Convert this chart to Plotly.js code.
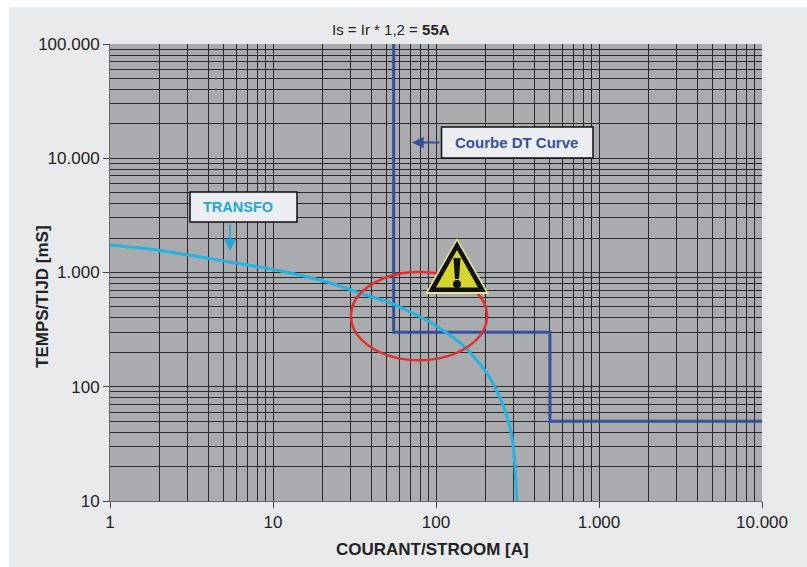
<!DOCTYPE html>
<html>
<head>
<meta charset="utf-8">
<script src="https://cdn.plot.ly/plotly-3.0.1.min.js"></script>
<style>
html,body{margin:0;padding:0;background:#fff;width:807px;height:567px;overflow:hidden}
#panel{position:absolute;left:9px;top:7px;width:798px;height:560px;background:#e9eaec}
#chart{position:absolute;left:0;top:0;width:807px;height:567px}
</style>
</head>
<body>
<div id="panel"></div>
<div id="chart"></div>
<script>
var transfoCurrent = [1, 1.94, 5.45, 11, 22.3, 35.6, 54.5, 91.9, 146, 205, 247, 277, 297, 305, 314];
var transfoTime = [1740, 1574, 1236, 1037, 814, 648, 530, 369, 232, 132, 80, 51, 32, 19.8, 10];
var dtCurrent = [55, 55, 500, 500, 10000];
var dtTime = [100000, 300, 300, 50, 50];
var xTickVals = [1, 10, 100, 1000, 10000];
var xTickText = ['1', '10', '100', '1.000', '10.000'];
var yTickVals = [10, 100, 1000, 10000, 100000];
var yTickText = ['10', '100', '1.000', '10.000', '100.000'];
var chartTitle = 'Is = Ir * 1,2 = <b>55A</b>';
var xTitle = 'COURANT/STROOM [A]';
var yTitle = 'TEMPS/TIJD [mS]';

var FONT = '"Liberation Sans", Arial, sans-serif';
var gridColor = '#2a2a2a';
var textColor = '#222';

function axis(vals, text, range) {
  return {
    type: 'log', range: range, tickmode: 'array', tickvals: vals, ticktext: text,
    ticks: 'outside', ticklen: 6, tickwidth: 1, tickcolor: '#444',
    showgrid: true, gridcolor: gridColor, gridwidth: 1,
    minor: {showgrid: true, gridcolor: gridColor, gridwidth: 1, dtick: 'D1', ticks: ''},
    showline: true, linecolor: '#666', linewidth: 1, zeroline: false,
    tickfont: {family: FONT, size: 17, color: textColor}
  };
}

var traces = [
  {x: dtCurrent, y: dtTime, mode: 'lines', line: {color: '#35509f', width: 3}, hoverinfo: 'skip'},
  {x: transfoCurrent, y: transfoTime, mode: 'lines', line: {color: '#22b4e2', width: 3, shape: 'spline', smoothing: 0.6}, hoverinfo: 'skip'}
];

function px(x){return (x-110)/652;}
function py(y){return (501-y)/457;}
function poly(pts){return 'M' + pts.map(function(p){return px(p[0]).toFixed(4)+','+py(p[1]).toFixed(4);}).join('L') + 'Z';}
function box(x0,y0,x1,y1){
  return {type:'rect',xref:'paper',yref:'paper',x0:px(x0),x1:px(x1),y0:py(y1),y1:py(y0),fillcolor:'#eceef1',line:{color:'#111',width:1.5},layer:'above'};
}
function label(x,y,text,size,color,angle){
  return {xref:'paper',yref:'paper',x:px(x),y:py(y),xanchor:'center',yanchor:'middle',text:text,showarrow:false,textangle:angle||0,font:{family:FONT,size:size,color:color}};
}
function arrow(x,y,ax,ay,color){
  return {xref:'paper',yref:'paper',axref:'paper',ayref:'paper',x:px(x),y:py(y),ax:px(ax),ay:py(ay),text:'',showarrow:true,arrowhead:2,arrowsize:1.3,arrowwidth:1.8,arrowcolor:color};
}
var shapes = [
  {type:'circle',xref:'x',yref:'y',x0:30.1,x1:205.6,y0:171,y1:1010,line:{color:'#e2302f',width:2.5},fillcolor:'rgba(0,0,0,0)',layer:'above'},
  {type:'path',xref:'paper',yref:'paper',path:poly([[457,238],[425,294],[489,294]]),fillcolor:'#e4e69a',line:{width:0},layer:'above'},
  {type:'path',xref:'paper',yref:'paper',path:poly([[457,241],[428,292],[486,292]]),fillcolor:'#111',line:{width:0},layer:'above'},
  {type:'path',xref:'paper',yref:'paper',path:poly([[457,250],[436,287.5],[478,287.5]]),fillcolor:'#d5d72e',line:{width:0},layer:'above'},
  {type:'path',xref:'paper',yref:'paper',path:poly([[453.5,258],[460.5,258],[459,279],[455,279]]),fillcolor:'#111',line:{width:0},layer:'above'},
  {type:'circle',xref:'paper',yref:'paper',x0:px(453),x1:px(461),y0:py(288),y1:py(280),fillcolor:'#111',line:{width:0},layer:'above'},
  box(190,192,297,222),
  box(441.5,127,593,158)
];

var annotations = [
  label(238,207,'<b>TRANSFO</b>',14.5,'#22a8dc'),
  label(516.5,142.5,'<b>Courbe DT Curve</b>',15,'#35509f'),
  arrow(230,251,230,223,'#22a8dc'),
  arrow(412,142.5,441,142.5,'#35509f'),
  label(391,29,chartTitle,15,textColor),
  label(432,549.5,'<b>'+xTitle+'</b>',17,textColor),
  label(42,297,'<b>'+yTitle+'</b>',17,textColor,-90)
];

var layout = {
  width: 807, height: 567,
  margin: {l:110, r:45, t:44, b:66},
  paper_bgcolor: 'rgba(0,0,0,0)',
  plot_bgcolor: '#a9abae',
  showlegend: false,
  xaxis: axis(xTickVals, xTickText, [0,4]),
  yaxis: axis(yTickVals, yTickText, [1,5]),
  shapes: shapes,
  annotations: annotations
};
Plotly.newPlot('chart', traces, layout, {staticPlot:true, displayModeBar:false});
</script>
</body>
</html>
